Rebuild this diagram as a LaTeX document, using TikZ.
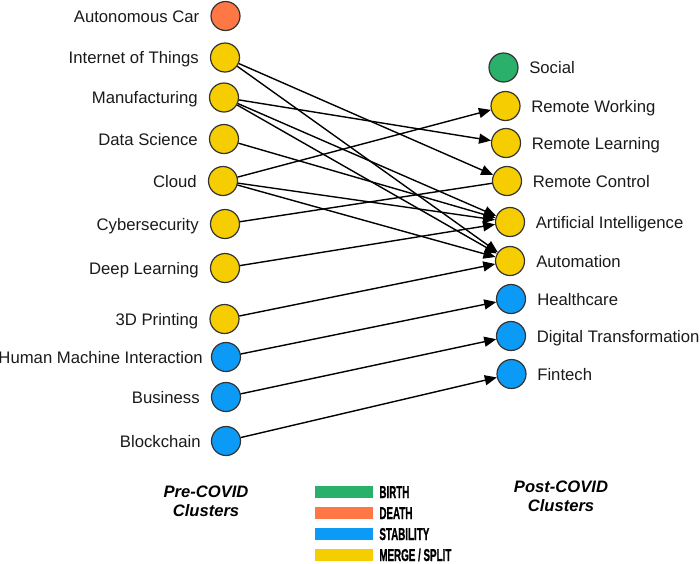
\documentclass[tikz,border=0pt]{standalone}
\usepackage{fontspec}
\setmainfont{Liberation Sans}
\newfontfamily\legfont[FakeBold=1.2]{Liberation Sans}
\usetikzlibrary{arrows.meta}
\definecolor{cyel}{HTML}{F5CD00}
\definecolor{cblu}{HTML}{0B9BF6}
\definecolor{corg}{HTML}{FF7744}
\definecolor{cgrn}{HTML}{2BB06B}
\definecolor{cborder}{HTML}{333333}
\definecolor{ctext}{HTML}{1A1A1A}
\newcommand\condtxt[1]{\scalebox{0.57}[1]{#1}}
\begin{document}
\begin{tikzpicture}[x=1pt,y=-1pt,
  dot/.style={circle,draw=cborder,line width=1.2pt,minimum size=29pt,inner sep=0pt},
  lbl/.style={inner sep=0pt,font=\fontsize{16.7}{20}\selectfont,text=ctext},
  ttl/.style={inner sep=0pt,align=center,font=\fontsize{16.6}{19}\selectfont\bfseries\itshape,text=black},
  bar/.style={minimum width=58pt,minimum height=12pt,inner sep=0pt,draw=none},
  leg/.style={inner sep=0pt,font=\legfont\fontsize{17.2}{20}\selectfont\bfseries,text=black},
  arr/.style={line width=1.4pt,-{Triangle[length=12pt,width=10pt]}},
  lnk/.style={line width=1.4pt}]
\useasboundingbox (0,0) rectangle (700,563);
% left nodes
\node[dot,fill=corg] (ac) at (225.5,16) {};
\node[dot,fill=cyel] (iot) at (225,57.5) {};
\node[dot,fill=cyel] (man) at (224,97.5) {};
\node[dot,fill=cyel] (ds) at (224,139) {};
\node[dot,fill=cyel] (cl) at (223,181) {};
\node[dot,fill=cyel] (cy) at (225,224) {};
\node[dot,fill=cyel] (dl) at (225,268) {};
\node[dot,fill=cyel] (tp) at (224.5,319) {};
\node[dot,fill=cblu] (hmi) at (226,357) {};
\node[dot,fill=cblu] (bus) at (226,397) {};
\node[dot,fill=cblu] (bc) at (226,441) {};
% left labels
\node[lbl,anchor=base east] (tac) at ([xshift=-11pt,yshift=-6pt]ac.west) {Autonomous Car};
\node[lbl,anchor=base east] (tiot) at ([xshift=-11pt,yshift=-6pt]iot.west) {Internet of Things};
\node[lbl,anchor=base east] (tman) at ([xshift=-11pt,yshift=-6pt]man.west) {Manufacturing};
\node[lbl,anchor=base east] (tds) at ([xshift=-11pt,yshift=-6pt]ds.west) {Data Science};
\node[lbl,anchor=base east] (tcl) at ([xshift=-11pt,yshift=-6pt]cl.west) {Cloud};
\node[lbl,anchor=base east] (tcy) at ([xshift=-11pt,yshift=-6pt]cy.west) {Cybersecurity};
\node[lbl,anchor=base east] (tdl) at ([xshift=-11pt,yshift=-6pt]dl.west) {Deep Learning};
\node[lbl,anchor=base east] (ttp) at ([xshift=-11pt,yshift=-6pt]tp.west) {3D Printing};
\node[lbl,anchor=base east] (thmi) at ([xshift=-8pt,yshift=-6pt]hmi.west) {Human Machine Interaction};
\node[lbl,anchor=base east] (tbus) at ([xshift=-11pt,yshift=-6pt]bus.west) {Business};
\node[lbl,anchor=base east] (tbc) at ([xshift=-10pt,yshift=-6pt]bc.west) {Blockchain};
% right nodes
\node[dot,fill=cgrn] (so) at (503.5,67.5) {};
\node[dot,fill=cyel] (rw) at (505.5,106) {};
\node[dot,fill=cyel] (rl) at (506,143) {};
\node[dot,fill=cyel] (rc) at (507,181) {};
\node[dot,fill=cyel] (ai) at (510,222) {};
\node[dot,fill=cyel] (au) at (510,261) {};
\node[dot,fill=cblu] (hc) at (511,299) {};
\node[dot,fill=cblu] (dt) at (511,336) {};
\node[dot,fill=cblu] (ft) at (511.5,374) {};
% right labels
\node[lbl,anchor=base west] (tso) at ([xshift=10.5pt,yshift=-6pt]so.east) {Social};
\node[lbl,anchor=base west] (trw) at ([xshift=10.5pt,yshift=-6pt]rw.east) {Remote Working};
\node[lbl,anchor=base west] (trl) at ([xshift=10.5pt,yshift=-6pt]rl.east) {Remote Learning};
\node[lbl,anchor=base west] (trc) at ([xshift=10.5pt,yshift=-6pt]rc.east) {Remote Control};
\node[lbl,anchor=base west] (tai) at ([xshift=10.5pt,yshift=-6pt]ai.east) {Artificial Intelligence};
\node[lbl,anchor=base west] (tau) at ([xshift=11pt,yshift=-6pt]au.east) {Automation};
\node[lbl,anchor=base west] (thc) at ([xshift=11pt,yshift=-6pt]hc.east) {Healthcare};
\node[lbl,anchor=base west] (tdt) at ([xshift=10.5pt,yshift=-6pt]dt.east) {Digital Transformation};
\node[lbl,anchor=base west] (tft) at ([xshift=10.5pt,yshift=-6pt]ft.east) {Fintech};
% connectors
\draw[arr] (iot) -- (rc);
\draw[arr] (iot) -- (au);
\draw[arr] (man) -- (rl);
\draw[arr] (man) -- (ai);
\draw[arr] (man) -- (au);
\draw[arr] (ds) -- (ai);
\draw[arr] (cl) -- (rw);
\draw[arr] (cl) -- (ai);
\draw[arr] (cl) -- (au);
\draw[lnk] (cy) -- (rc);
\draw[arr] (dl) -- (ai);
\draw[arr] (tp) -- (au);
\draw[arr] (hmi) -- (hc);
\draw[arr] (bus) -- (dt);
\draw[arr] (bc) -- (ft);
% titles
\node[ttl,anchor=south] (pre) at (206,517) {Pre-COVID\\Clusters};
\node[ttl,anchor=south] (post) at (561,512) {Post-COVID\\Clusters};
% legend
\node[bar,fill=cgrn] (lb1) at (344,492) {};
\node[bar,fill=corg] (lb2) at (344,513) {};
\node[bar,fill=cblu] (lb3) at (344,534) {};
\node[bar,fill=cyel] (lb4) at (344,555) {};
\node[leg,anchor=base west] (tb1) at ([xshift=6pt,yshift=-6pt]lb1.east) {\condtxt{BIRTH}};
\node[leg,anchor=base west] (tb2) at ([xshift=6pt,yshift=-6pt]lb2.east) {\condtxt{DEATH}};
\node[leg,anchor=base west] (tb3) at ([xshift=6pt,yshift=-6pt]lb3.east) {\condtxt{STABILITY}};
\node[leg,anchor=base west] (tb4) at ([xshift=6pt,yshift=-6pt]lb4.east) {\condtxt{MERGE / SPLIT}};
\end{tikzpicture}
\end{document}
